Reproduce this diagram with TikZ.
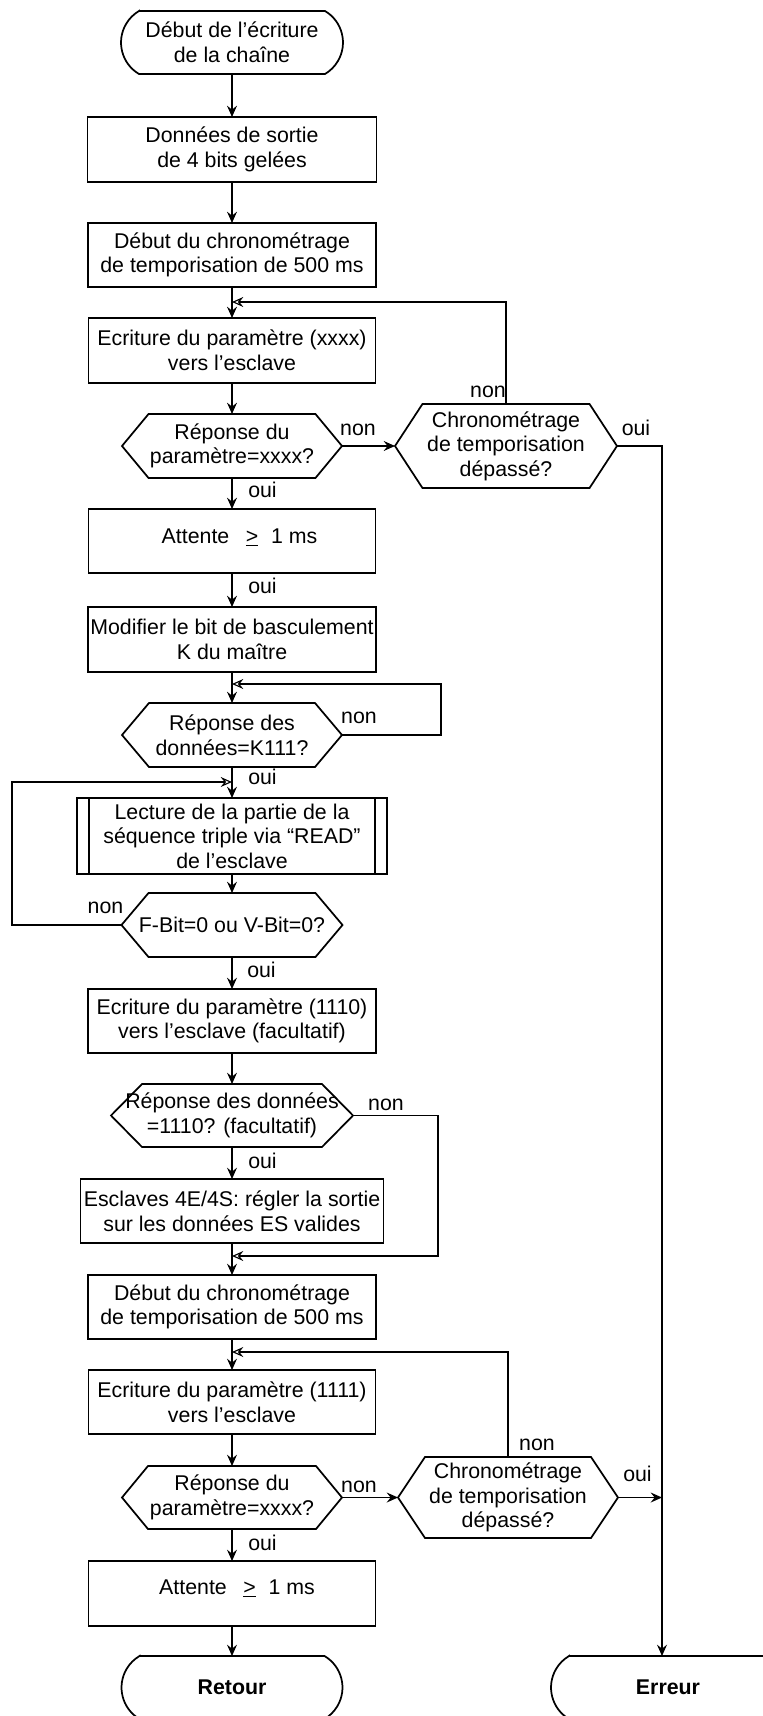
\documentclass[tikz,border=0pt]{standalone}
\usepackage{fontspec}
\setmainfont{Liberation Sans}
\usetikzlibrary{arrows.meta}
\newcommand\hexdraw[2]{\draw[shp] ([xshift=#2]#1.north west) -- ([xshift=-#2]#1.north east) -- (#1.east) -- ([xshift=-#2]#1.south east) -- ([xshift=#2]#1.south west) -- (#1.west) -- cycle;}
\newcommand\termdraw[1]{\draw[shp] ([xshift=13.5pt]#1.north west) -- ([xshift=-13.5pt]#1.north east) arc[start angle=59.4,end angle=-59.4,radius=27.45pt] -- ([xshift=13.5pt]#1.south west) arc[start angle=-120.6,end angle=-239.4,radius=27.45pt] -- cycle;}
\tikzset{
  txt/.style={font=\fontsize{16}{18.4}\selectfont, align=center, inner sep=0pt, outer sep=0pt, rectangle},
  shp/.style={line width=1.3pt, line join=miter},
  boxn/.style={txt, draw, shp, minimum height=48pt},
  hexn/.style={txt, minimum height=48pt},
  term/.style={txt, minimum height=47.25pt},
  lbl/.style={font=\fontsize{16}{18.4}\selectfont, inner sep=0pt, anchor=base},
  arr/.style={line width=0.85pt, -{Stealth[length=8.5pt,width=7.5pt,inset=3pt]}},
  arro/.style={line width=0.85pt, -{Stealth[open,length=8.5pt,width=7.5pt,inset=3pt]}},
}
\begin{document}
\begin{tikzpicture}[x=0.75pt,y=-0.75pt]
\useasboundingbox (0,0) rectangle (763,1716);
% nodes
\node[term, minimum width=166.5pt] (s) at (232,42.5) {Début de l’écriture\\de la chaîne};
\termdraw{s}
\node[boxn, minimum width=216.75pt, minimum height=48.75pt] (b1) at (232,149.5) {Données de sortie\\de 4 bits gelées};
\node[boxn, minimum width=216pt] (b2) at (232,255) {Début du chronométrage\\de temporisation de 500 ms};
\node[boxn, minimum width=215.25pt, minimum height=48.75pt] (b3) at (232,350.5) {Ecriture du paramètre (xxxx)\\vers l’esclave};
\node[hexn, minimum width=165pt] (h1) at (232,446) {Réponse du\\paramètre=xxxx?};
\hexdraw{h1}{19.9pt}
\node[hexn, minimum width=166.5pt, minimum height=63pt] (h2) at (506,446) {Chronométrage\\de temporisation\\dépassé?};
\hexdraw{h2}{20.6pt}
\node[boxn, minimum width=215.25pt] (b4) at (232,541) {};
\node[lbl] (t4) at (239.5,543) {Attente\hspace{12.5pt}\underline{>}\hspace{9.5pt}1 ms};
\node[boxn, minimum width=216pt, minimum height=48.75pt] (b5) at (232,639.5) {Modifier le bit de basculement\\K du maître};
\node[hexn, minimum width=165pt] (h3) at (232,735) {Réponse des\\données=K111?};
\hexdraw{h3}{20.25pt}
\node[boxn, minimum width=232.5pt, minimum height=57pt] (b6) at (232,836) {Lecture de la partie de la\\séquence triple via “READ”\\de l’esclave};
\draw[shp] ([xshift=9pt]b6.north west) -- ([xshift=9pt]b6.south west);
\draw[shp] ([xshift=-9pt]b6.north east) -- ([xshift=-9pt]b6.south east);
\node[hexn, minimum width=165.75pt] (h4) at (232,925) {F-Bit=0 ou V-Bit=0?};
\hexdraw{h4}{20.25pt}
\node[boxn, minimum width=216pt] (b7) at (232,1021) {Ecriture du paramètre (1110)\\vers l’esclave (facultatif)};
\node[hexn, minimum width=181.5pt, minimum height=47.25pt] (h5) at (232,1115.5) {Réponse des données\\=1110? (facultatif)};
\hexdraw{h5}{23.25pt}
\node[boxn, minimum width=227.25pt] (b8) at (232,1211) {Esclaves 4E/4S: régler la sortie\\sur les données ES valides};
\node[boxn, minimum width=216pt] (b9) at (232,1307) {Début du chronométrage\\de temporisation de 500 ms};
\node[boxn, minimum width=215.25pt] (b10) at (232,1402) {Ecriture du paramètre (1111)\\vers l’esclave};
\node[hexn, minimum width=165pt, minimum height=47.25pt] (h6) at (232,1497.5) {Réponse du\\paramètre=xxxx?};
\hexdraw{h6}{19.5pt}
\node[hexn, minimum width=165pt, minimum height=60.75pt] (h7) at (508,1497.5) {Chronométrage\\de temporisation\\dépassé?};
\hexdraw{h7}{20.25pt}
\node[boxn, minimum width=215.25pt, minimum height=48.75pt] (b11) at (232,1593.5) {};
\node[lbl] (t11) at (237,1594.5) {Attente\hspace{12.5pt}\underline{>}\hspace{9.5pt}1 ms};
\node[term, minimum width=165.75pt, font=\fontsize{16}{18.4}\selectfont\bfseries] (ret) at (232,1687.5) {Retour};
\termdraw{ret}
\node[term, minimum width=175.5pt, font=\fontsize{16}{18.4}\selectfont\bfseries] (err) at (668,1687.5) {Erreur};
\termdraw{err}
% join points
\coordinate (j1) at (232,302);
\coordinate (j2) at (232,684);
\coordinate (j3) at (232,782);
\coordinate (j4) at (232,1256);
\coordinate (j5) at (232,1352);
\coordinate (ej) at (662,446);
% connectors
\draw[arr] (s) -- (b1);
\draw[arr] (b1) -- (b2);
\draw[arr] (b2) -- (b3);
\draw[arr] (b3) -- (h1);
\draw[arr] (h1.east) -- (h2.west);
\draw[arro] (h2.north) |- (j1);
\draw[arr] (h2.east) -- (ej) -- (ej |- err.north);
\draw[arr] (h1) -- (b4);
\draw[arr] (b4) -- (b5);
\draw[arr] (b5) -- (h3);
\draw[arro] (h3.east) -- ++(99,0) |- (j2);
\draw[arr] (h3) -- (b6);
\draw[arr] (b6) -- (h4);
\draw[arro] (h4.west) -- ++(-109.5,0) |- (j3);
\draw[arr] (h4) -- (b7);
\draw[arr] (b7) -- (h5);
\draw[arr] (h5) -- (b8);
\draw[arro] (h5.east) -- ++(85,0) |- (j4);
\draw[arr] (b8) -- (b9);
\draw[arr] (b9) -- (b10);
\draw[arro] (h7.north) |- (j5);
\draw[arr] (b10) -- (h6);
\draw[arr] (h6.east) -- (h7.west);
\draw[arr] (h7.east) -- (ej |- h7.east);
\draw[arr] (h6) -- (b11);
\draw[arr] (b11) -- (ret);
% labels
\node[lbl] (l1) at (358,435.5) {non};
\node[lbl] (l2) at (488,397.5) {non};
\node[lbl] (l3) at (636,435.5) {oui};
\node[lbl] (l4) at (262.5,497.5) {oui};
\node[lbl] (l5) at (262.5,593.5) {oui};
\node[lbl] (l6) at (359,723.5) {non};
\node[lbl] (l7) at (262.5,784.5) {oui};
\node[lbl] (l8) at (105.5,913.5) {non};
\node[lbl] (l9) at (261.5,977.5) {oui};
\node[lbl] (l10) at (386,1110.5) {non};
\node[lbl] (l11) at (262.5,1168.5) {oui};
\node[lbl] (l12) at (537,1450.5) {non};
\node[lbl] (l13) at (359,1492) {non};
\node[lbl] (l14) at (637.5,1481.5) {oui};
\node[lbl] (l15) at (262.5,1550.5) {oui};
\end{tikzpicture}
\end{document}
